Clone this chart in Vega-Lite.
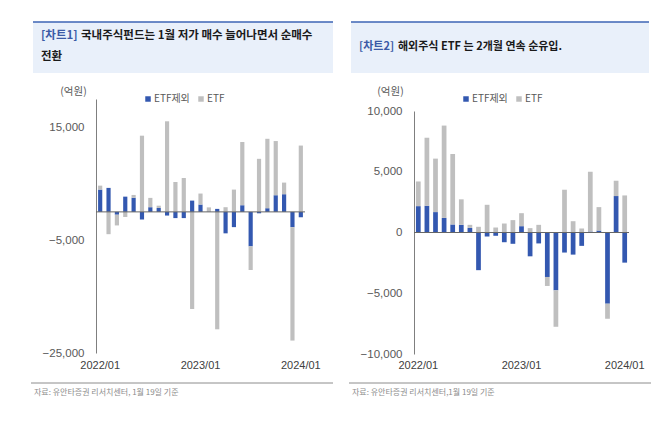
{
  "$schema": "https://vega.github.io/schema/vega-lite/v6.json",
  "autosize": {"type": "pad"},
  "padding": {"left": 30, "top": 21, "right": 5, "bottom": 5},
  "background": "white",
  "config": {"view": {"stroke": null}, "font": "Noto Sans CJK KR"},
  "datasets": {
    "c1": [
      {"m": "2022/01", "ETF제외": 3950, "ETF": 700},
      {"m": "2022/02", "ETF제외": 4250, "ETF": -3950},
      {"m": "2022/03", "ETF제외": -500, "ETF": -1900},
      {"m": "2022/04", "ETF제외": 2700, "ETF": -900},
      {"m": "2022/05", "ETF제외": 2500, "ETF": 500},
      {"m": "2022/06", "ETF제외": -1350, "ETF": 13500},
      {"m": "2022/07", "ETF제외": 830, "ETF": 1650},
      {"m": "2022/08", "ETF제외": 700, "ETF": 400},
      {"m": "2022/09", "ETF제외": -650, "ETF": 16050},
      {"m": "2022/10", "ETF제외": -1100, "ETF": 5300},
      {"m": "2022/11", "ETF제외": -1100, "ETF": 6000},
      {"m": "2022/12", "ETF제외": 2000, "ETF": -17200},
      {"m": "2023/01", "ETF제외": 1300, "ETF": 1950},
      {"m": "2023/02", "ETF제외": 50, "ETF": 750},
      {"m": "2023/03", "ETF제외": 530, "ETF": -20800},
      {"m": "2023/04", "ETF제외": -3800, "ETF": 830},
      {"m": "2023/05", "ETF제외": -2700, "ETF": 3950},
      {"m": "2023/06", "ETF제외": 1180, "ETF": 11200},
      {"m": "2023/07", "ETF제외": -6100, "ETF": -4200},
      {"m": "2023/08", "ETF제외": -250, "ETF": 9400},
      {"m": "2023/09", "ETF제외": 650, "ETF": 12300},
      {"m": "2023/10", "ETF제외": 2950, "ETF": 9600},
      {"m": "2023/11", "ETF제외": 3130, "ETF": 2060},
      {"m": "2023/12", "ETF제외": -2700, "ETF": -20100},
      {"m": "2024/01", "ETF제외": -950, "ETF": 11750}
    ],
    "c2": [
      {"m": "2022/01", "ETF제외": 2170, "ETF": 2030},
      {"m": "2022/02", "ETF제외": 2200, "ETF": 5600},
      {"m": "2022/03", "ETF제외": 1680, "ETF": 4400},
      {"m": "2022/04", "ETF제외": 1200, "ETF": 7600},
      {"m": "2022/05", "ETF제외": 660, "ETF": 5800},
      {"m": "2022/06", "ETF제외": 630, "ETF": 2100},
      {"m": "2022/07", "ETF제외": 380, "ETF": 250},
      {"m": "2022/08", "ETF제외": -3100, "ETF": 470},
      {"m": "2022/09", "ETF제외": -330, "ETF": 2280},
      {"m": "2022/10", "ETF제외": -270, "ETF": 410},
      {"m": "2022/11", "ETF제외": -800, "ETF": 740},
      {"m": "2022/12", "ETF제외": -930, "ETF": 1020},
      {"m": "2023/01", "ETF제외": 520, "ETF": 1070},
      {"m": "2023/02", "ETF제외": -1960, "ETF": 360},
      {"m": "2023/03", "ETF제외": -900, "ETF": 630},
      {"m": "2023/04", "ETF제외": -3660, "ETF": -740},
      {"m": "2023/05", "ETF제외": -4760, "ETF": -3000},
      {"m": "2023/06", "ETF제외": -1650, "ETF": 3520},
      {"m": "2023/07", "ETF제외": -1820, "ETF": 930},
      {"m": "2023/08", "ETF제외": -1100, "ETF": 330},
      {"m": "2023/09", "ETF제외": 80, "ETF": 4920},
      {"m": "2023/10", "ETF제외": 160, "ETF": 1930},
      {"m": "2023/11", "ETF제외": -5860, "ETF": -1240},
      {"m": "2023/12", "ETF제외": 3000, "ETF": 1260},
      {"m": "2024/01", "ETF제외": -2480, "ETF": 3050}
    ]
  },
  "hconcat": [
    {
      "width": 209,
      "height": 255,
      "layer": [
        {"data": {"values": [{}]}, "mark": {"type": "rect", "fill": "#e9f0fa"}, "encoding": {"x": {"value": -63}, "x2": {"value": 237}, "y": {"value": -77}, "y2": {"value": -26}}},
        {"data": {"values": [{}]}, "mark": {"type": "rule", "stroke": "#3d64b5", "strokeWidth": 1.5}, "encoding": {"x": {"value": -63}, "x2": {"value": 237}, "y": {"value": -77}}},
        {"data": {"values": [{"t": "[차트1]"}]}, "mark": {"type": "text", "fontSize": 11.5, "fontWeight": "bold", "color": "#3b5aa6", "align": "left", "baseline": "middle"}, "encoding": {"x": {"value": -55}, "y": {"value": -63}, "text": {"field": "t"}}},
        {"data": {"values": [{"t": "국내주식펀드는 1월 저가 매수 늘어나면서 순매수"}]}, "mark": {"type": "text", "fontSize": 11.5, "fontWeight": "bold", "color": "#1a1a1a", "align": "left", "baseline": "middle"}, "encoding": {"x": {"value": -15}, "y": {"value": -63}, "text": {"field": "t"}}},
        {"data": {"values": [{"t": "전환"}]}, "mark": {"type": "text", "fontSize": 11.5, "fontWeight": "bold", "color": "#1a1a1a", "align": "left", "baseline": "middle"}, "encoding": {"x": {"value": -55}, "y": {"value": -42}, "text": {"field": "t"}}},
        {
          "data": {"name": "c1"},
          "transform": [{"fold": ["ETF제외", "ETF"], "as": ["s", "v"]}],
          "mark": {"type": "bar"},
          "encoding": {
            "x": {"field": "m", "type": "ordinal", "scale": {"paddingInner": 0.5, "paddingOuter": 0.25},
                  "axis": {"values": ["2022/01", "2023/01", "2024/01"], "labelAngle": 0, "ticks": false, "domain": false, "labelPadding": 5, "labelFontSize": 11, "labelColor": "#404040", "labelFont": "Liberation Sans", "title": null}},
            "y": {"field": "v", "type": "quantitative", "stack": "zero",
                  "scale": {"domain": [-25000, 20000], "range": [254, 0], "nice": false, "zero": false},
                  "axis": {"values": [-25000, -5000, 15000], "format": ",.0f", "grid": false, "ticks": false, "labelPadding": 12, "labelFontSize": 11.5, "labelColor": "#595959", "labelFont": "Liberation Sans", "domainColor": "#7f7f7f",
                           "title": "(억원)", "titleAngle": 0, "titleX": -23, "titleY": -8, "titleAlign": "center", "titleBaseline": "middle", "titleFontSize": 10.5, "titleFontWeight": "normal", "titleColor": "#595959"}},
            "color": {"field": "s", "type": "nominal", "scale": {"domain": ["ETF제외", "ETF"], "range": ["#3358b0", "#bfbfbf"]},
                      "legend": {"orient": "none", "legendX": 47, "legendY": -5, "direction": "horizontal", "title": null, "symbolType": "square", "symbolSize": 30, "symbolStrokeWidth": 0, "labelFontSize": 10, "labelColor": "#595959", "padding": 0, "columnPadding": 6, "labelOffset": 1}},
            "order": {"field": "s", "sort": "descending"}
          }
        },
        {"data": {"values": [{}]}, "mark": {"type": "rule", "color": "#666666", "strokeWidth": 1}, "encoding": {"y": {"datum": 0}}},
        {"data": {"values": [{}]}, "mark": {"type": "rule", "stroke": "#8c8c8c", "strokeWidth": 1}, "encoding": {"x": {"value": -65}, "x2": {"value": 237}, "y": {"value": 284}}},
        {"data": {"values": [{"t": "자료: 유안타증권 리서치센터, 1월 19일 기준"}]}, "mark": {"type": "text", "fontSize": 8, "color": "#8c8c8c", "align": "left", "baseline": "middle"}, "encoding": {"x": {"value": -62}, "y": {"value": 294}, "text": {"field": "t"}}}
      ]
    },
    {
      "width": 215,
      "height": 255,
      "layer": [
        {"data": {"values": [{}]}, "mark": {"type": "rect", "fill": "#e9f0fa"}, "encoding": {"x": {"value": -63}, "x2": {"value": 235}, "y": {"value": -77}, "y2": {"value": -26}}},
        {"data": {"values": [{}]}, "mark": {"type": "rule", "stroke": "#3d64b5", "strokeWidth": 1.5}, "encoding": {"x": {"value": -63}, "x2": {"value": 235}, "y": {"value": -77}}},
        {"data": {"values": [{"t": "[차트2]"}]}, "mark": {"type": "text", "fontSize": 11, "fontWeight": "bold", "color": "#3b5aa6", "align": "left", "baseline": "middle"}, "encoding": {"x": {"value": -55}, "y": {"value": -52}, "text": {"field": "t"}}},
        {"data": {"values": [{"t": "해외주식 ETF 는 2개월 연속 순유입."}]}, "mark": {"type": "text", "fontSize": 11, "fontWeight": "bold", "color": "#1a1a1a", "align": "left", "baseline": "middle"}, "encoding": {"x": {"value": -16}, "y": {"value": -52}, "text": {"field": "t"}}},
        {
          "data": {"name": "c2"},
          "transform": [{"fold": ["ETF제외", "ETF"], "as": ["s", "v"]}],
          "mark": {"type": "bar"},
          "encoding": {
            "x": {"field": "m", "type": "ordinal", "scale": {"paddingInner": 0.45, "paddingOuter": 0.225},
                  "axis": {"values": ["2022/01", "2023/01", "2024/01"], "labelAngle": 0, "ticks": false, "domain": false, "labelPadding": 5, "labelFontSize": 11, "labelColor": "#404040", "labelFont": "Liberation Sans", "title": null}},
            "y": {"field": "v", "type": "quantitative", "stack": "zero",
                  "scale": {"domain": [-10000, 10000], "range": [255, 12], "nice": false, "zero": false},
                  "axis": {"values": [-10000, -5000, 0, 5000, 10000], "format": ",.0f", "grid": false, "ticks": false, "labelPadding": 12, "labelFontSize": 11.5, "labelColor": "#595959", "labelFont": "Liberation Sans", "domainColor": "#7f7f7f",
                           "title": "(억원)", "titleAngle": 0, "titleX": -24, "titleY": -8, "titleAlign": "center", "titleBaseline": "middle", "titleFontSize": 10.5, "titleFontWeight": "normal", "titleColor": "#595959"}},
            "color": {"field": "s", "type": "nominal", "scale": {"domain": ["ETF제외", "ETF"], "range": ["#3358b0", "#bfbfbf"]},
                      "legend": {"orient": "none", "legendX": 47, "legendY": -5, "direction": "horizontal", "title": null, "symbolType": "square", "symbolSize": 30, "symbolStrokeWidth": 0, "labelFontSize": 10, "labelColor": "#595959", "padding": 0, "columnPadding": 6, "labelOffset": 1}},
            "order": {"field": "s", "sort": "descending"}
          }
        },
        {"data": {"values": [{}]}, "mark": {"type": "rule", "color": "#666666", "strokeWidth": 1}, "encoding": {"y": {"datum": 0}}},
        {"data": {"values": [{}]}, "mark": {"type": "rule", "stroke": "#8c8c8c", "strokeWidth": 1}, "encoding": {"x": {"value": -65}, "x2": {"value": 237}, "y": {"value": 284}}},
        {"data": {"values": [{"t": "자료: 유안타증권 리서치센터,1월 19일 기준"}]}, "mark": {"type": "text", "fontSize": 8, "color": "#8c8c8c", "align": "left", "baseline": "middle"}, "encoding": {"x": {"value": -62}, "y": {"value": 294}, "text": {"field": "t"}}}
      ]
    }
  ],
  "spacing": 109,
  "bounds": "flush",
  "resolve": {"scale": {"color": "independent", "y": "independent", "x": "independent"}, "legend": {"color": "independent"}}
}
